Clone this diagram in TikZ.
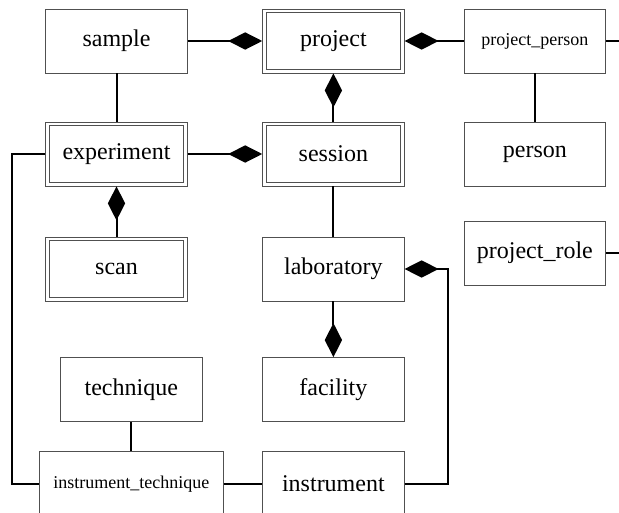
\documentclass[tikz,border=0pt]{standalone}
\usepackage{fontspec}
\setmainfont{Liberation Serif}
\usetikzlibrary{arrows.meta}

\definecolor{boxgray}{RGB}{80,80,80}

\tikzset{
  entity/.style={draw=boxgray, line width=0.6pt, inner sep=0pt,
    minimum width=106.2pt, minimum height=48pt, font=\fontsize{18}{20}\selectfont},
  innerline/.style={draw=boxgray, line width=0.6pt},
  smalltext/.style={font=\fontsize{13.5}{15}\selectfont},
  conn/.style={line width=1.5pt},
  comp/.style={line width=1.5pt, -{Diamond[length=25.5pt,width=13pt]}}
}

\begin{document}
\begin{tikzpicture}[x=0.75pt,y=0.75pt,yscale=-1,xscale=1]
\clip (0,0) rectangle (619,513);

%Shape: Rectangle
\node [entity] (sample) at (116.5,41) {sample};
%Shape: Double Rectangle
\node [entity] (project) at (333.4,41) {project};
%Shape: Rectangle
\node [entity,smalltext] (projectperson) at (534.9,41) {project\_person};
%Shape: Double Rectangle
\node [entity] (experiment) at (116.5,154) {experiment};
%Shape: Double Rectangle
\node [entity] (session) at (333.4,154) {session};
%Shape: Rectangle
\node [entity] (person) at (534.9,154) {person};
%Shape: Double Rectangle
\node [entity] (scan) at (116.5,269) {scan};
%Shape: Rectangle
\node [entity] (laboratory) at (333.4,269) {laboratory};
%Shape: Rectangle
\node [entity] (projectrole) at (534.9,253) {project\_role};
%Shape: Rectangle
\node [entity] (technique) at (131.3,389.5) {technique};
%Shape: Rectangle
\node [entity] (facility) at (333.4,389.5) {facility};
%Shape: Rectangle
\node [entity,smalltext,minimum width=138pt] (insttech) at (131.3,483.7) {instrument\_technique};
%Shape: Rectangle
\node [entity] (instrument) at (333.4,483.7) {instrument};

% inner frame of the weak entities
\foreach \w in {project,experiment,session,scan}
  \draw [innerline] ([shift={(4.3,4.3)}]\w.north west) rectangle ([shift={(-4.3,-4.3)}]\w.south east);

% corner and loose ends
\coordinate (leftbus) at (12.3,154);
\coordinate (labbus) at (448.3,269);
\coordinate (ppout) at (630,41);
\coordinate (prout) at (630,253);

%Straight Lines
\draw [conn] (sample) -- (experiment);
\draw [comp] (sample) -- (project);
\draw [comp] (projectperson) -- (project);
\draw [comp] (session) -- (project);
\draw [comp] (experiment) -- (session);
\draw [comp] (scan) -- (experiment);
\draw [conn] (session) -- (laboratory);
\draw [comp] (laboratory) -- (facility);
\draw [conn] (technique) -- (insttech);
\draw [conn] (insttech) -- (instrument);
\draw [conn] (projectperson) -- (person);
\draw [conn] (projectperson.east) -- (ppout);
\draw [conn] (projectrole.east) -- (prout);
\draw [conn] (experiment.west) -- (leftbus) |- (insttech.west);
\draw [comp] (instrument.east) -| (labbus) -- (laboratory.east);

\end{tikzpicture}
\end{document}
